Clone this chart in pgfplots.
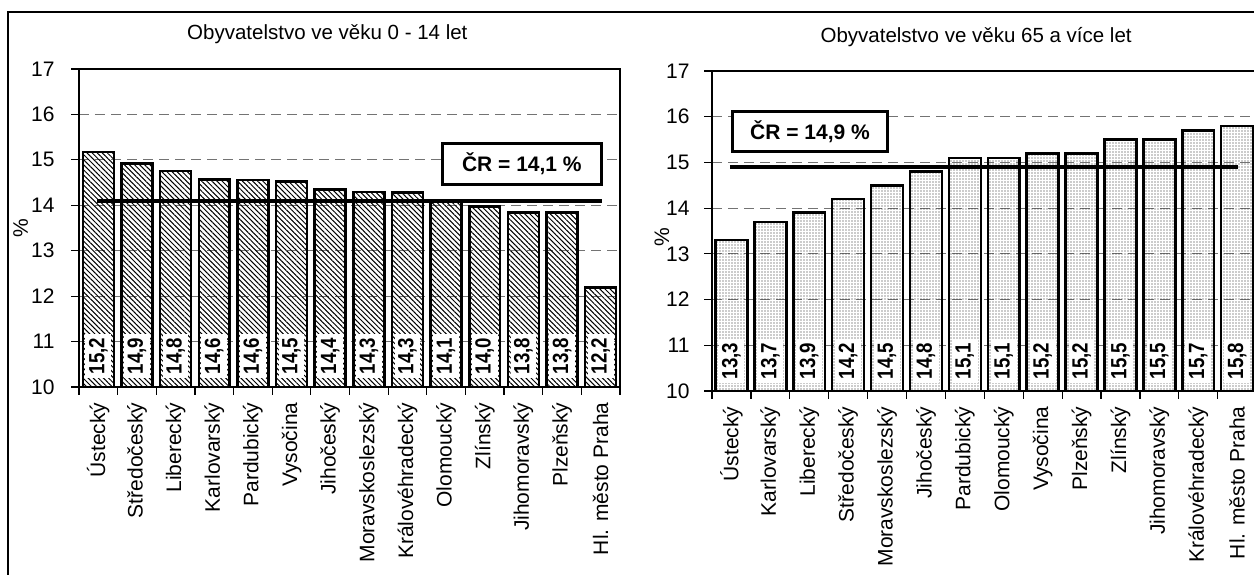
\documentclass[border=0pt]{standalone}
\usepackage{fontspec}
\setmainfont{Liberation Sans}
\newfontfamily\barfont{Liberation Sans}[FakeStretch=0.85]
\usepackage{pgfplots}
\usepackage{pgfplotstable}
\pgfplotsset{compat=1.18}
\usetikzlibrary{patterns.meta}

\pgfplotstableread{
x v base label
1 15.17 10.2 15,2
2 14.92 10.2 14,9
3 14.76 10.2 14,8
4 14.57 10.2 14,6
5 14.56 10.2 14,6
6 14.52 10.2 14,5
7 14.35 10.2 14,4
8 14.29 10.2 14,3
9 14.28 10.2 14,3
10 14.10 10.2 14,1
11 13.97 10.2 14,0
12 13.84 10.2 13,8
13 13.84 10.2 13,8
14 12.19 10.2 12,2
}\leftdata

\pgfplotstableread{
x v base label
1 13.3 10.18 13,3
2 13.7 10.18 13,7
3 13.9 10.18 13,9
4 14.2 10.18 14,2
5 14.5 10.18 14,5
6 14.8 10.18 14,8
7 15.1 10.18 15,1
8 15.1 10.18 15,1
9 15.2 10.18 15,2
10 15.2 10.18 15,2
11 15.5 10.18 15,5
12 15.5 10.18 15,5
13 15.7 10.18 15,7
14 15.8 10.18 15,8
}\rightdata

\pgfplotsset{
  mybase/.style={
    scale only axis,
    /pgf/number format/assume math mode=true,
    xmin=0.5, xmax=14.5, ymin=10, ymax=17,
    ytick={10,...,17}, ytick pos=left,
    tick align=outside, major tick length=8pt,
    xtick={1,...,14}, xtick pos=bottom,
    major x tick style={draw=none},
    minor xtick={0.5,1.5,...,14.5}, minor tick length=8pt,
    minor x tick style={black, line width=1.2pt},
    ymajorgrids,
    grid style={dash pattern=on 10pt off 6pt, black!55, line width=1.2pt},
    axis line style={black, line width=1.2pt},
    y tick style={black, line width=1.2pt},
    yticklabel style={font=\fontsize{21}{24}\selectfont},
    xticklabel style={rotate=90, anchor=east, font=\fontsize{21}{24}\selectfont},
    xticklabel shift=4pt,
    ylabel={\%},
    ylabel style={font=\fontsize{21}{24}\selectfont, anchor=center},
    title style={anchor=base, font=\fontsize{20.5}{24}\selectfont},
  },
  barlabels/.style={
    draw=none, mark=none, nodes near coords, point meta=explicit symbolic,
    nodes near coords style={rotate=90, anchor=west, fill=white, inner sep=3.5pt,
      font=\barfont\bfseries\fontsize{22}{24}\selectfont},
  },
}

\begin{document}
\begin{tikzpicture}
\useasboundingbox (0,0) rectangle (1254pt,575pt);
\fill[white] (0,0) rectangle (1254pt,575pt);

% left chart
\begin{axis}[mybase,
  at={(79pt,188pt)}, anchor=south west,
  width=541pt, height=318pt,
  yticklabel style={xshift=-13pt},
  xticklabels={Ústecký,Středočeský,Liberecký,Karlovarský,Pardubický,Vysočina,Jihočeský,Moravskoslezský,Královéhradecký,Olomoucký,Zlínský,Jihomoravský,Plzeňský,Hl. město Praha},
  title={Obyvatelstvo ve věku 0 - 14 let},
  title style={at={(axis description cs:0.459,1)}, yshift=23pt},
  ylabel style={at={(axis description cs:-0.108,0.5)}},
]
\addplot[ybar, bar width=0.8, draw=black, line width=2.5pt,
  pattern={Lines[angle=-45,distance=3.6pt,line width=1pt]}, pattern color=black]
  table[x=x,y=v]{\leftdata};
\addplot[barlabels] table[x=x,y=base,meta=label]{\leftdata};
\addplot[line width=4pt, black] coordinates {(0.97,14.1) (14.03,14.1)};
\node[draw=black, line width=3pt, fill=white, minimum width=159pt, minimum height=41pt,
  inner sep=0pt, font=\bfseries\fontsize{21}{24}\selectfont]
  at (axis cs:11.96,14.91) {ČR = 14,1 \%};
\end{axis}

% right chart
\begin{axis}[mybase,
  at={(712pt,184pt)}, anchor=south west,
  width=544.6pt, height=320pt,
  yticklabel style={xshift=-11pt},
  xticklabels={Ústecký,Karlovarský,Liberecký,Středočeský,Moravskoslezský,Jihočeský,Pardubický,Olomoucký,Vysočina,Plzeňský,Zlínský,Jihomoravský,Královéhradecký,Hl. město Praha},
  title={Obyvatelstvo ve věku 65 a více let},
  title style={at={(axis description cs:0.485,1)}, yshift=22.7pt},
  ylabel style={at={(axis description cs:-0.092,0.48)}},
]
\addplot[ybar, bar width=0.82, draw=black, line width=2.5pt,
  pattern={Dots[distance=3pt,radius=0.7pt]}, pattern color=black!85]
  table[x=x,y=v]{\rightdata};
\addplot[barlabels] table[x=x,y=base,meta=label]{\rightdata};
\addplot[line width=4pt, black] coordinates {(0.96,14.9) (14.02,14.9)};
\node[draw=black, line width=3pt, fill=white, minimum width=155pt, minimum height=40pt,
  inner sep=0pt, font=\bfseries\fontsize{21}{24}\selectfont]
  at (axis cs:3.02,15.68) {ČR = 14,9 \%};
\end{axis}

% outer frame
\draw[black, line width=1.5pt] (8pt,0pt) -- (8pt,563pt) -- (1260pt,563pt);
\end{tikzpicture}
\end{document}
